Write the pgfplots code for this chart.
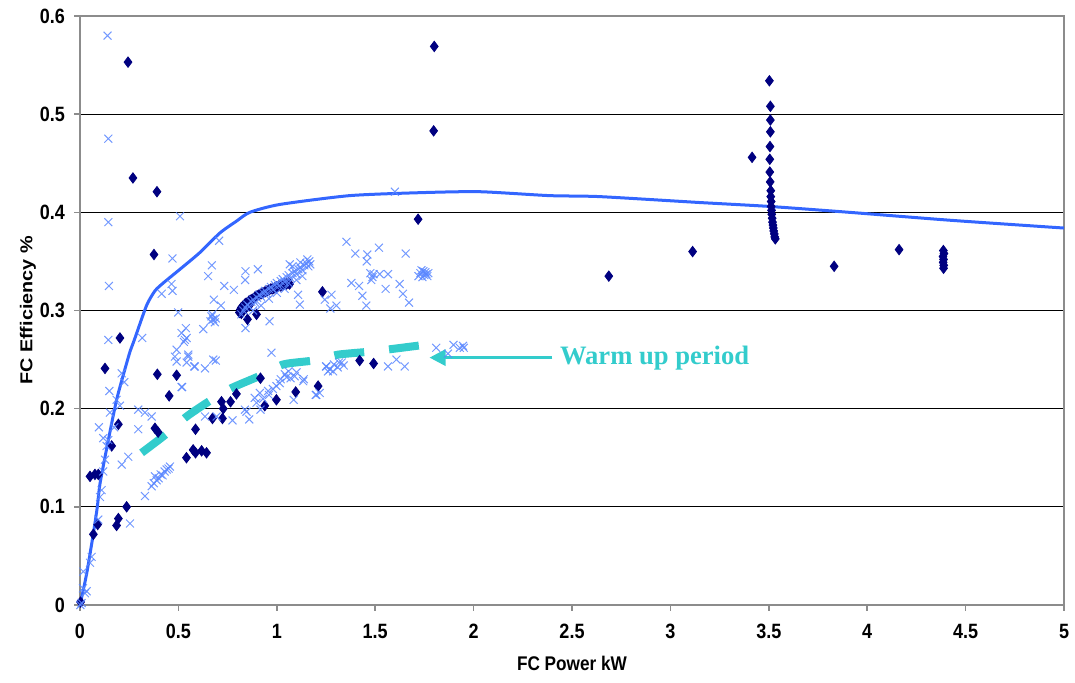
\documentclass[border=0pt]{standalone}
\usepackage{graphicx}
\usepackage{pgfplots}
\usepackage{pgfplotstable}
\pgfplotsset{compat=1.18}
\usepackage{fontspec}
\setmainfont{Liberation Sans}
\newfontfamily\serifbold{Liberation Serif}
\usetikzlibrary{arrows.meta}
\definecolor{navy}{RGB}{0,0,128}
\definecolor{xblue}{RGB}{90,135,255}
\definecolor{trendblue}{RGB}{51,102,255}
\definecolor{turq}{RGB}{51,204,204}
\newcommand\tl[1]{\scalebox{1}[1.15]{#1}}

\pgfplotstableread{
x y
0.003 0.003
0.068 0.072
0.090 0.082
0.186 0.081
0.195 0.088
0.237 0.100
0.051 0.131
0.076 0.133
0.093 0.133
0.127 0.241
0.161 0.162
0.195 0.184
0.203 0.272
0.244 0.553
0.269 0.435
0.376 0.357
0.391 0.421
0.381 0.180
0.397 0.176
0.393 0.235
0.453 0.213
0.491 0.234
0.541 0.150
0.575 0.158
0.587 0.155
0.587 0.179
0.618 0.157
0.643 0.155
0.673 0.190
0.719 0.207
0.724 0.190
0.728 0.200
0.765 0.207
0.795 0.215
0.851 0.291
0.897 0.296
0.917 0.231
0.939 0.203
0.998 0.209
1.096 0.217
1.210 0.223
1.232 0.319
1.421 0.249
1.492 0.246
1.718 0.393
1.797 0.483
1.800 0.569
0.810 0.298
0.815 0.301
0.820 0.297
0.820 0.303
0.825 0.302
0.830 0.300
0.830 0.305
0.840 0.307
0.845 0.303
0.850 0.308
0.860 0.305
0.860 0.310
0.870 0.311
0.880 0.312
0.890 0.314
0.900 0.315
0.910 0.316
0.920 0.317
0.930 0.318
0.940 0.319
0.950 0.320
0.960 0.321
0.970 0.322
0.980 0.322
0.990 0.323
1.000 0.324
1.010 0.325
1.020 0.325
1.030 0.326
1.040 0.327
1.050 0.327
1.060 0.328
1.065 0.327
2.687 0.335
3.113 0.360
3.415 0.456
3.503 0.534
3.508 0.508
3.508 0.494
3.508 0.482
3.506 0.467
3.505 0.454
3.505 0.441
3.507 0.431
3.510 0.422
3.510 0.416
3.512 0.411
3.512 0.406
3.514 0.402
3.515 0.398
3.517 0.394
3.519 0.390
3.521 0.387
3.523 0.384
3.525 0.381
3.528 0.378
3.530 0.375
3.533 0.373
3.832 0.345
4.162 0.362
4.387 0.361
4.390 0.358
4.385 0.355
4.388 0.352
4.386 0.349
4.389 0.346
4.388 0.343
}\diamonds

\pgfplotstableread{
x y
0.140 0.580
0.144 0.475
0.144 0.390
0.508 0.396
0.707 0.371
0.470 0.353
0.670 0.346
0.651 0.335
0.147 0.325
0.465 0.327
0.470 0.320
0.415 0.317
0.733 0.325
0.782 0.321
0.680 0.311
0.716 0.305
0.499 0.298
0.677 0.291
0.668 0.294
0.685 0.288
0.672 0.296
0.690 0.292
0.663 0.289
0.626 0.281
0.538 0.282
0.516 0.277
0.542 0.272
0.528 0.268
0.144 0.270
0.316 0.272
0.841 0.340
0.904 0.342
0.839 0.331
0.841 0.282
0.963 0.289
1.117 0.306
1.108 0.316
1.244 0.311
1.278 0.316
1.272 0.302
1.303 0.305
1.066 0.347
1.354 0.370
1.399 0.358
1.460 0.357
1.457 0.350
1.519 0.364
1.655 0.358
1.379 0.328
1.418 0.325
1.486 0.334
1.480 0.331
1.492 0.337
1.475 0.338
1.523 0.337
1.565 0.337
1.553 0.322
1.624 0.327
1.641 0.317
1.435 0.315
1.455 0.305
1.672 0.308
1.600 0.421
1.720 0.335
1.730 0.338
1.740 0.334
1.745 0.340
1.750 0.336
1.755 0.339
1.760 0.337
1.765 0.335
1.735 0.341
1.770 0.338
1.810 0.262
1.898 0.265
1.870 0.256
1.930 0.262
1.946 0.264
1.950 0.262
1.608 0.250
1.565 0.243
1.650 0.243
1.250 0.243
1.270 0.240
1.290 0.245
1.310 0.242
1.330 0.247
1.340 0.244
1.260 0.238
1.137 0.230
1.218 0.216
1.198 0.214
0.533 0.270
0.550 0.255
0.542 0.247
0.584 0.243
0.635 0.241
0.690 0.249
0.973 0.257
0.516 0.222
0.635 0.192
0.775 0.188
0.860 0.189
0.846 0.197
0.888 0.211
0.917 0.199
0.956 0.218
0.998 0.223
1.015 0.226
1.041 0.235
1.091 0.233
1.134 0.228
1.086 0.209
1.201 0.214
1.252 0.243
1.286 0.238
1.316 0.247
0.897 0.206
0.914 0.216
0.694 0.192
0.838 0.199
0.491 0.260
0.482 0.253
0.550 0.253
0.491 0.248
0.580 0.243
0.519 0.222
0.677 0.250
1.020 0.230
1.050 0.232
1.060 0.238
1.070 0.231
0.980 0.220
0.960 0.214
0.930 0.210
1.100 0.237
0.212 0.236
0.225 0.227
0.149 0.218
0.186 0.209
0.203 0.203
0.152 0.196
0.296 0.199
0.330 0.196
0.364 0.192
0.096 0.181
0.174 0.181
0.296 0.179
0.118 0.170
0.144 0.168
0.135 0.162
0.127 0.148
0.245 0.151
0.212 0.143
0.118 0.136
0.110 0.117
0.1015 0.110
0.330 0.111
0.364 0.121
0.375 0.124
0.381 0.131
0.390 0.127
0.400 0.129
0.410 0.133
0.420 0.132
0.430 0.136
0.440 0.138
0.450 0.139
0.457 0.141
0.254 0.083
0.093 0.087
0.017 0.034
0.059 0.049
0.051 0.043
0.025 0.012
0.008 0.002
0.015 0.017
0.034 0.014
0.002 0.000
0.820 0.296
0.830 0.300
0.840 0.303
0.850 0.306
0.860 0.304
0.870 0.309
0.880 0.311
0.890 0.308
0.900 0.313
0.910 0.316
0.920 0.314
0.930 0.318
0.940 0.320
0.950 0.317
0.960 0.322
0.970 0.324
0.980 0.321
0.990 0.326
1.000 0.328
1.010 0.325
1.020 0.330
1.030 0.332
1.040 0.329
1.050 0.334
1.060 0.336
1.070 0.333
1.080 0.338
1.090 0.340
1.100 0.337
1.110 0.342
1.120 0.344
1.130 0.341
1.140 0.346
1.150 0.348
1.160 0.345
1.165 0.350
1.170 0.347
1.155 0.352
1.120 0.349
1.080 0.345
1.040 0.322
1.060 0.328
1.100 0.331
1.130 0.335
0.880 0.300
0.920 0.305
0.960 0.312
1.000 0.318
}\crosses

\pgfplotstableread{
x y
0 0
0.034 0.032
0.068 0.073
0.088 0.100
0.102 0.124
0.144 0.168
0.186 0.209
0.228 0.240
0.254 0.258
0.276 0.270
0.338 0.305
0.381 0.320
0.423 0.328
0.508 0.342
0.609 0.359
0.711 0.379
0.795 0.391
0.863 0.400
1.015 0.408
1.370 0.417
1.726 0.420
2.030 0.421
2.386 0.417
2.640 0.416
3.147 0.410
3.503 0.406
3.909 0.400
4.416 0.392
4.924 0.385
5.000 0.384
}\trend

\pgfplotstableread{
x y
0.313 0.155
0.431 0.173
0.542 0.192
0.660 0.208
0.770 0.221
0.909 0.233
1.032 0.245
1.184 0.249
1.311 0.255
1.469 0.258
1.594 0.261
1.751 0.265
}\warmup

\begin{document}
\begin{tikzpicture}
\begin{axis}[
  scale only axis,
  width=492bp, height=294.5bp,
  xmin=0, xmax=5, ymin=0, ymax=0.6,
  xtick={0,0.5,1,1.5,2,2.5,3,3.5,4,4.5,5},
  ytick={0,0.1,0.2,0.3,0.4,0.5,0.6},
  xticklabels={\tl{0},\tl{0.5},\tl{1},\tl{1.5},\tl{2},\tl{2.5},\tl{3},\tl{3.5},\tl{4},\tl{4.5},\tl{5}},
  yticklabels={\tl{0},\tl{0.1},\tl{0.2},\tl{0.3},\tl{0.4},\tl{0.5},\tl{0.6}},
  ymajorgrids,
  grid style={black, line width=0.5bp},
  axis line style={gray!90, line width=0.8bp},
  tick align=outside,
  xtick pos=left, ytick pos=left,
  major tick length=3bp,
  tick style={gray!90, line width=0.8bp},
  ticklabel style={font=\fontsize{9bp}{10bp}\selectfont\bfseries},
  xticklabel style={yshift=-3bp},
  yticklabel style={xshift=-1bp},
  xlabel={\scalebox{1}[1.15]{FC Power kW}},
  ylabel={\scalebox{1.15}[1]{FC Efficiency \%}},
  label style={font=\fontsize{8.6bp}{10bp}\selectfont\bfseries},
  xlabel style={at={(axis description cs:0.5,-0.1)}, anchor=center},
  ylabel style={at={(axis description cs:-0.0528,0.5)}, anchor=center},
  clip=false,
]
\addplot[trendblue, line width=1.5bp, smooth, tension=0.4] table {\trend};
\addplot[only marks, mark=diamond*, mark size=2.6bp, mark options={fill=navy, draw=navy}] table {\diamonds};
\addplot[only marks, mark=x, mark size=2.8bp, mark options={draw=xblue, line width=0.5bp, opacity=0.85}] table {\crosses};
\addplot[turq, line width=4bp, smooth, tension=0.4, dash pattern=on 15bp off 12.5bp] table {\warmup};
\draw[turq, line width=1.5bp, -{Triangle[length=8bp, width=8bp]}] (axis cs:2.40,0.252) -- (axis cs:1.776,0.252);
\node[anchor=west, text=turq, font=\serifbold\bfseries\fontsize{13.3bp}{15bp}\selectfont, inner sep=0pt] at (axis cs:2.437,0.252) {Warm up period};
\end{axis}
\pgfresetboundingbox
\path ([shift={(-40bp,-39bp)}]current axis.south west) rectangle ([shift={(5.5bp,8bp)}]current axis.north east);
\end{tikzpicture}
\end{document}
